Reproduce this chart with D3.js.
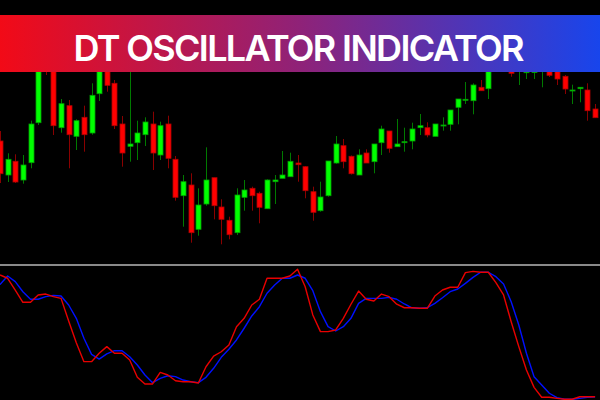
<!DOCTYPE html>
<html><head><meta charset="utf-8">
<script src="https://cdn.jsdelivr.net/npm/d3@7/dist/d3.min.js"></script>
<style>html,body{margin:0;padding:0;background:#000;}svg{display:block;}</style>
</head><body>
<svg id="chart" width="600" height="400"></svg>
<script>
const title = "DT OSCILLATOR INDICATOR";
const openP = [1.1459,1.1425,1.14387,1.1420,1.14373,1.14773,1.1560,1.1550,1.14723,1.14943,1.14637,1.14827,1.1467,1.15063,1.1540,1.15167,1.1476,1.14537,1.14573,1.14653,1.1476,1.1445,1.1476,1.14407,1.14043,1.1415,1.13707,1.1396,1.14223,1.1393,1.13797,1.13673,1.14027,1.14117,1.14067,1.13913,1.14183,1.14217,1.14233,1.1437,1.14333,1.14083,1.13893,1.14043,1.1437,1.14543,1.14437,1.1425,1.1447,1.14383,1.14573,1.1469,1.14533,1.14577,1.1459,1.14723,1.14723,1.14637,1.14743,1.14757,1.14927,1.14997,1.14993,1.15127,1.15113,1.1545,1.1570,1.1555,1.1535,1.15273,1.15275,1.1534,1.1550,1.1540,1.15237,1.15093,1.15113,1.1510,1.1491];
const highP = [1.1469,1.14467,1.14457,1.1445,1.14793,1.1552,1.1570,1.1558,1.1501,1.1500,1.14807,1.14943,1.15167,1.1545,1.1548,1.1520,1.1484,1.1540,1.14793,1.14827,1.14883,1.14783,1.14843,1.1444,1.1425,1.14267,1.14117,1.14527,1.14223,1.14007,1.13833,1.14117,1.1420,1.14133,1.14083,1.14207,1.1425,1.1449,1.14473,1.1445,1.1434,1.14133,1.14183,1.1439,1.1464,1.1461,1.14445,1.14507,1.14507,1.1456,1.14743,1.1469,1.1481,1.14723,1.14773,1.1486,1.14777,1.1476,1.14827,1.1490,1.1501,1.1518,1.15167,1.1520,1.1560,1.1572,1.1578,1.1562,1.1562,1.1558,1.1555,1.1555,1.1558,1.1548,1.1525,1.15153,1.15127,1.15167,1.1496];
const lowP = [1.1417,1.1418,1.1417,1.14163,1.14317,1.1475,1.1525,1.1465,1.14673,1.14317,1.1450,1.14483,1.14653,1.1499,1.15083,1.1471,1.14333,1.14383,1.1440,1.1454,1.1430,1.1440,1.14317,1.13993,1.13733,1.13573,1.13643,1.13943,1.13807,1.13557,1.13607,1.1365,1.13893,1.13893,1.13767,1.1391,1.1396,1.14217,1.14233,1.14183,1.14017,1.13793,1.13883,1.14033,1.14363,1.14317,1.14255,1.1425,1.1437,1.14267,1.1445,1.14473,1.14533,1.14483,1.14507,1.1465,1.14627,1.14637,1.14693,1.14693,1.14757,1.1496,1.14857,1.15093,1.1501,1.1535,1.1532,1.15233,1.1515,1.1521,1.1521,1.15127,1.1523,1.1515,1.1506,1.1496,1.14977,1.14793,1.14823];
const closeP = [1.14263,1.14407,1.1418,1.1435,1.1476,1.1545,1.1534,1.14743,1.14963,1.14653,1.14793,1.14653,1.15047,1.1538,1.15147,1.14743,1.1447,1.1456,1.1467,1.1478,1.1447,1.14743,1.14417,1.14027,1.14183,1.13673,1.1395,1.1420,1.13943,1.13807,1.13653,1.1405,1.1410,1.14043,1.13927,1.1420,1.1420,1.1425,1.14387,1.14353,1.14093,1.13877,1.1403,1.1439,1.1456,1.14383,1.14263,1.1445,1.1437,1.1456,1.1471,1.14517,1.1456,1.14583,1.1471,1.14743,1.1465,1.1476,1.1475,1.1490,1.1501,1.15007,1.1515,1.15093,1.1550,1.1565,1.1555,1.15267,1.1555,1.1550,1.1545,1.1548,1.15247,1.1521,1.1511,1.1510,1.15127,1.14893,1.14823];
const fastLine = [95.4,92.9,83.9,74.5,74.5,80.1,80.8,78.8,77.5,60.2,43.5,29.0,29.0,35.4,40.5,35.4,35.4,30.3,17.0,11.9,11.9,20.8,18.8,14.4,13.6,13.6,12.6,25.1,33.3,36.6,41.8,55.8,62.2,72.4,76.8,92.9,92.9,92.9,94.6,99.8,86.4,64.8,52.0,52.0,53.3,62.2,73.0,83.1,76.8,75.5,80.8,78.8,73.0,70.3,70.3,69.9,69.9,79.3,83.9,86.0,86.0,97.2,98.2,97.5,97.5,89.5,80.1,59.6,40.5,22.6,9.3,1.7,1.7,0.9,0.2,0.2,2.1,2.1,2.1];
const slowLine = [88.0,94.6,90.3,82.6,76.8,76.8,78.8,79.8,79.3,72.4,62.2,46.9,34.6,31.0,34.9,37.4,37.4,32.8,26.4,18.8,12.9,16.2,18.2,17.5,14.9,13.6,12.9,17.0,23.9,32.3,38.5,45.6,54.6,64.0,71.1,81.4,87.7,92.9,92.9,95.4,92.9,83.4,67.3,55.8,52.5,55.8,62.2,73.7,77.5,77.5,77.5,78.3,76.8,73.2,70.3,69.9,70.3,73.7,78.0,82.6,84.7,89.0,93.6,97.5,97.5,94.1,88.5,74.9,57.1,35.4,17.5,11.1,4.8,1.4,0.2,0.2,0.9,1.7,2.1];

const candles = openP.map((o,i)=>({i, o, h: highP[i], l: lowP[i], c: closeP[i]}));

const svg = d3.select("#chart");
svg.append("rect").attr("width",600).attr("height",400).attr("fill","#000");

const x = d3.scaleLinear().domain([0, openP.length-1]).range([0, 595.1]);
const y = d3.scaleLinear().domain([1.1335, 1.1600]).range([265, 0]);
const yo = d3.scaleLinear().domain([0, 100]).range([399.5, 269]);

const defs = svg.append("defs");
defs.append("clipPath").attr("id","priceClip").append("rect").attr("x",-5).attr("y",0).attr("width",610).attr("height",263);
defs.append("clipPath").attr("id","oscClip").append("rect").attr("x",0).attr("y",267).attr("width",600).attr("height",133);

const pg = svg.append("g").attr("clip-path","url(#priceClip)");
const up = d => d.c >= d.o;
pg.selectAll("line.wick").data(candles).join("line")
  .attr("class","wick")
  .attr("x1", d => Math.round(x(d.i)) + 0.5).attr("x2", d => Math.round(x(d.i)) + 0.5)
  .attr("y1", d => y(d.h)).attr("y2", d => y(d.l))
  .attr("stroke", d => up(d) ? "#007a00" : "#8a0000").attr("stroke-width",1);
const bw = 5;
pg.selectAll("rect.body").data(candles).join("rect")
  .attr("class","body")
  .attr("x", d => Math.round(x(d.i)) - 2)
  .attr("width", bw)
  .attr("y", d => y(Math.max(d.o,d.c)))
  .attr("height", d => Math.max(1, Math.abs(y(d.o) - y(d.c))))
  .attr("fill", d => up(d) ? "#00ff00" : "#ff0000")
  .attr("stroke", d => up(d) ? "#00a000" : "#b00000")
  .attr("stroke-width", 0.8);

// separator
svg.append("line").attr("x1",0).attr("x2",600).attr("y1",265).attr("y2",265)
  .attr("stroke","#8a8a8a").attr("stroke-width",2);

const og = svg.append("g").attr("clip-path","url(#oscClip)");
const lineGen = d3.line().x((d,i)=>x(i)).y(d=>yo(d));
og.append("path").datum(slowLine).attr("d", lineGen).attr("fill","none")
  .attr("stroke","#0010ff").attr("stroke-width",1.4).attr("stroke-linejoin","round");
og.append("path").datum(fastLine).attr("d", lineGen).attr("fill","none")
  .attr("stroke","#e80000").attr("stroke-width",1.4).attr("stroke-linejoin","round");

// title banner
const grad = defs.append("linearGradient").attr("id","bannerGrad").attr("x1","0%").attr("x2","100%");
grad.append("stop").attr("offset","0%").attr("stop-color","#f20a17");
grad.append("stop").attr("offset","50%").attr("stop-color","#8f2278");
grad.append("stop").attr("offset","100%").attr("stop-color","#1845ec");
svg.append("rect").attr("x",0).attr("y",15).attr("width",600).attr("height",57).attr("fill","url(#bannerGrad)");
svg.append("text").attr("x",299).attr("y",61).attr("text-anchor","middle")
  .attr("font-family","Inter, 'Open Sans', sans-serif").attr("font-weight",600)
  .attr("font-size",36).attr("fill","#fff")
  .attr("textLength",451).attr("lengthAdjust","spacing")
  .text(title);
</script>
</body></html>
